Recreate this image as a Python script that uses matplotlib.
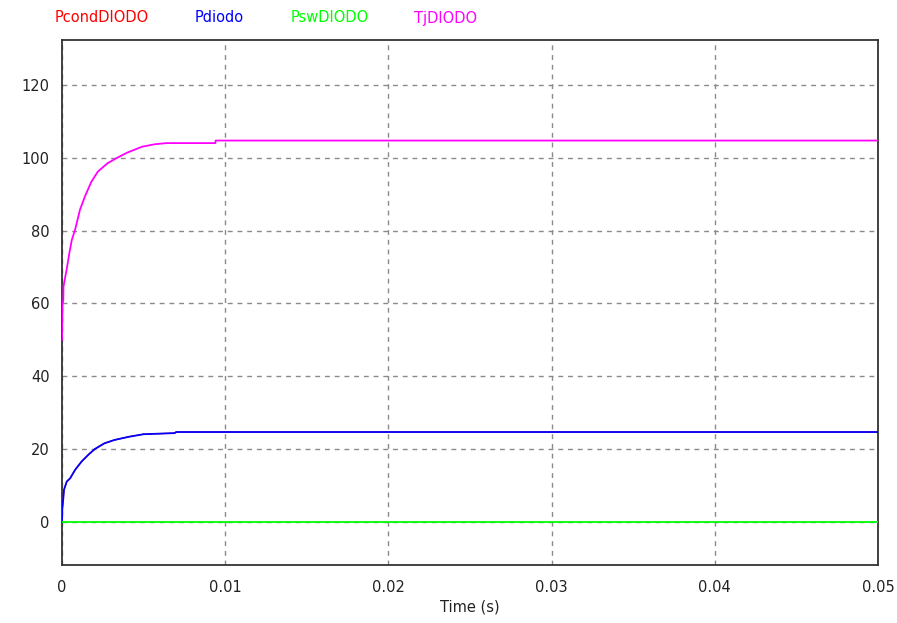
import matplotlib
matplotlib.use("Agg")
import matplotlib.pyplot as plt

# ---- data ----
t_tj = [0.0, 0.00003, 0.00008, 0.00009, 0.0003, 0.00045, 0.0006, 0.0008, 0.0011,
        0.0014, 0.0018, 0.0022, 0.0028, 0.00335, 0.0040, 0.0049, 0.0057, 0.0064,
        0.0094, 0.00941, 0.05]
tj_values = [50.0, 59.6, 61.0, 64.6, 69.7, 73.8, 77.4, 80.2, 85.7,
             89.3, 93.4, 96.2, 98.5, 99.9, 101.4, 103.0, 103.7, 104.0,
             104.0, 104.7, 104.7]

t_p = [0.0, 0.00002, 0.00008, 0.00012, 0.00029, 0.0005, 0.0008, 0.0012, 0.0016,
       0.0020, 0.0026, 0.0032, 0.0041, 0.0050, 0.0069, 0.0070, 0.05]
pdiodo_values = [0.0, 3.7, 6.5, 8.8, 11.1, 12.0, 14.3, 16.6, 18.4,
                 20.0, 21.6, 22.5, 23.4, 24.1, 24.4, 24.7, 24.7]
pcond_values = list(pdiodo_values)

t_sw = [0.0, 0.05]
psw_values = [0.0, 0.0]

series_names = ["PcondDIODO", "Pdiodo", "PswDIODO", "TjDIODO"]
series_colors = ["#ff0000", "#0000ff", "#00ff00", "#ff00ff"]

x_ticks = [0, 0.01, 0.02, 0.03, 0.04, 0.05]
x_ticklabels = ["0", "0.01", "0.02", "0.03", "0.04", "0.05"]
y_ticks = [0, 20, 40, 60, 80, 100, 120]

# ---- figure ----
plt.rcParams['font.family'] = ['DejaVu Sans']
fig = plt.figure(figsize=(8.97, 6.23), dpi=100)
ax = fig.add_axes([62/897, 1-565/623, (878-62)/897, (565-40)/623])

lw = 1.3
ax.plot(t_p, pcond_values, color=series_colors[0], lw=0.9, zorder=3)
ax.plot(t_p, pdiodo_values, color=series_colors[1], lw=lw, zorder=4)
ax.plot(t_sw, psw_values, color=series_colors[2], lw=lw, zorder=4)
ax.plot(t_tj, tj_values, color=series_colors[3], lw=lw, zorder=4)

ax.set_xlim(0, 0.05)
ax.set_ylim(-11.8, 132.3)
ax.set_xticks(x_ticks)
ax.set_xticklabels(x_ticklabels)
ax.set_yticks(y_ticks)
ax.tick_params(length=0, labelsize=10.5, colors="#222222")
ax.tick_params(axis="x", pad=11)
ax.tick_params(axis="y", pad=9)
ax.grid(True, color="#8a8a8a", linestyle=(0, (3.5, 3.5)), lw=1.0)
for s in ax.spines.values():
    s.set_color("#333333")
    s.set_linewidth(1.3)
ax.set_xlabel("Time (s)", fontsize=10.5, color="#222222", labelpad=3)

legend_x = [55, 195, 291, 414]
for name, col, x in zip(series_names, series_colors, legend_x):
    fig.text(x/897, 1-18/623, name, color=col, fontsize=10.5, va="center", ha="left")

fig.savefig("out.png", dpi=100)
